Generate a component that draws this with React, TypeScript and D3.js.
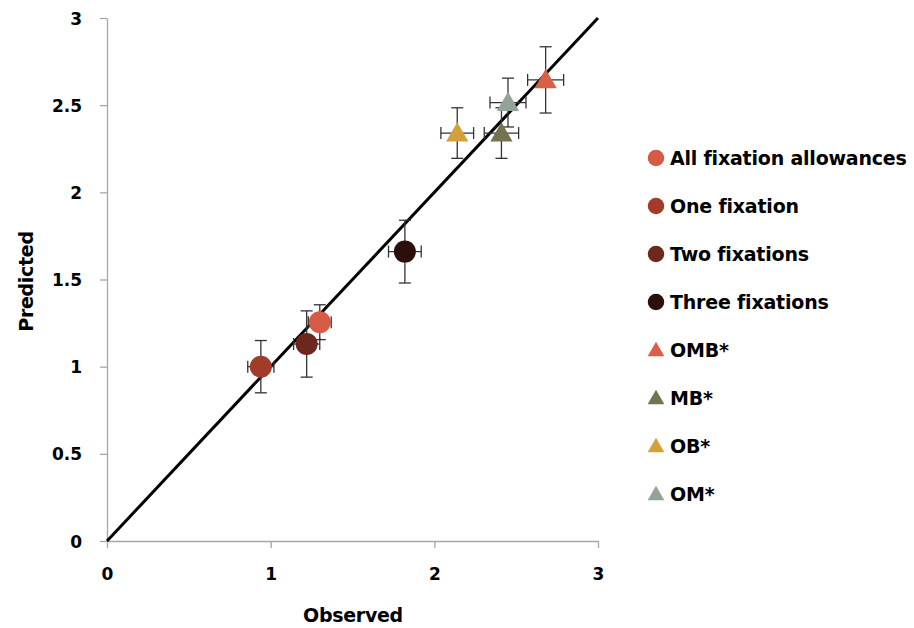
import React, { useEffect, useRef } from 'react';
import * as d3 from 'd3';

const seriesNames = [
  'All fixation allowances',
  'One fixation',
  'Two fixations',
  'Three fixations',
  'OMB*',
  'MB*',
  'OB*',
  'OM*',
];
const seriesShapes = ['circle', 'circle', 'circle', 'circle', 'triangle', 'triangle', 'triangle', 'triangle'];
const seriesColors = ['#d65b45', '#a33b29', '#6c281d', '#2a0f0d', '#d95f46', '#75734f', '#d3a13b', '#93a398'];
const observed = [1.3, 0.94, 1.22, 1.82, 2.68, 2.41, 2.14, 2.45];
const predicted = [1.255, 1.0, 1.13, 1.66, 2.645, 2.34, 2.34, 2.515];
const observedErr = [0.07, 0.08, 0.08, 0.1, 0.11, 0.105, 0.1, 0.11];
const predictedErr = [0.1, 0.15, 0.19, 0.18, 0.19, 0.145, 0.145, 0.14];
const tickValues = [0, 0.5, 1, 1.5, 2, 2.5, 3];
const xTickValues = [0, 1, 2, 3];

const App = () => {
  const svgRef = useRef<SVGSVGElement>(null);

  useEffect(() => {
    document.body.style.margin = '0';
    const width = 914;
    const height = 628;
    const svg = d3.select(svgRef.current);
    svg.selectAll('*').remove();
    svg.attr('width', width).attr('height', height);

    const axisColor = '#a6a6a6';
    const font = "'DejaVu Sans', Verdana, sans-serif";

    const x = d3.scaleLinear().domain([0, 3]).range([107, 598]);
    const y = d3.scaleLinear().domain([0, 3]).range([541, 18]);

    const g = svg.append('g');

    // Y axis
    const yAxis = g.append('g')
      .attr('transform', `translate(${x(0)},0)`)
      .call(d3.axisLeft(y).tickValues(tickValues).tickSize(7).tickSizeOuter(0).tickFormat(d3.format('')));
    yAxis.select('.domain').attr('stroke', axisColor).attr('stroke-width', 1.3);
    yAxis.selectAll('line').attr('stroke', axisColor).attr('stroke-width', 1.3);
    yAxis.selectAll('text')
      .attr('x', -25)
      .attr('dy', '0.36em')
      .style('font-family', font)
      .style('font-weight', 'bold')
      .style('font-size', '17px')
      .style('fill', '#000');

    // X axis
    const xAxis = g.append('g')
      .attr('transform', `translate(0,${y(0)})`)
      .call(d3.axisBottom(x).tickValues(xTickValues).tickSize(7).tickSizeOuter(0).tickFormat(d3.format('')));
    xAxis.select('.domain').attr('stroke', axisColor).attr('stroke-width', 1.3);
    xAxis.selectAll('line').attr('stroke', axisColor).attr('stroke-width', 1.3);
    xAxis.selectAll('text')
      .attr('y', 27)
      .style('font-family', font)
      .style('font-weight', 'bold')
      .style('font-size', '17px')
      .style('fill', '#000');

    // axis titles
    g.append('text')
      .attr('x', 353)
      .attr('y', 622)
      .attr('text-anchor', 'middle')
      .style('font-family', font)
      .style('font-weight', 'bold')
      .style('font-size', '19px')
      .style('letter-spacing', '-0.3px')
      .text('Observed');
    g.append('text')
      .attr('transform', `translate(33,${y(1.5) + 2}) rotate(-90)`)
      .attr('text-anchor', 'middle')
      .style('font-family', font)
      .style('font-weight', 'bold')
      .style('font-size', '19px')
      .style('letter-spacing', '-0.3px')
      .text('Predicted');

    // 1:1 line
    g.append('line')
      .attr('x1', x(0)).attr('y1', y(0))
      .attr('x2', x(3)).attr('y2', y(3))
      .attr('stroke', '#000')
      .attr('stroke-width', 3);

    const idx = d3.range(seriesNames.length);
    const cap = 6;

    // error bars
    const eb = g.append('g').attr('stroke', '#333').attr('stroke-width', 1.3);
    idx.forEach(i => {
      const cx = x(observed[i]);
      const cy = y(predicted[i]);
      const x0 = x(observed[i] - observedErr[i]);
      const x1 = x(observed[i] + observedErr[i]);
      const y0 = y(predicted[i] - predictedErr[i]);
      const y1 = y(predicted[i] + predictedErr[i]);
      eb.append('line').attr('x1', cx).attr('x2', cx).attr('y1', y0).attr('y2', y1);
      eb.append('line').attr('x1', cx - cap).attr('x2', cx + cap).attr('y1', y0).attr('y2', y0);
      eb.append('line').attr('x1', cx - cap).attr('x2', cx + cap).attr('y1', y1).attr('y2', y1);
      eb.append('line').attr('x1', x0).attr('x2', x1).attr('y1', cy).attr('y2', cy);
      eb.append('line').attr('x1', x0).attr('x2', x0).attr('y1', cy - cap).attr('y2', cy + cap);
      eb.append('line').attr('x1', x1).attr('x2', x1).attr('y1', cy - cap).attr('y2', cy + cap);
    });

    const circleSym = d3.symbol().type(d3.symbolCircle).size(Math.PI * 11 * 11);
    const triSym = d3.symbol().type(d3.symbolTriangle).size(215);

    const drawMarker = (sel, i, cx, cy, scale = 1) => {
      const isTri = seriesShapes[i] === 'triangle';
      sel.append('path')
        .attr('d', isTri ? triSym() : circleSym())
        .attr('transform', `translate(${cx},${cy + (isTri ? 2 * scale : 0)}) scale(${scale})`)
        .attr('fill', seriesColors[i]);
    };

    // markers
    const mk = g.append('g');
    idx.forEach(i => drawMarker(mk, i, x(observed[i]), y(predicted[i])));

    // legend
    const legend = g.append('g');
    idx.forEach(i => {
      const ly = 158 + i * 48;
      drawMarker(legend, i, 656, ly, 0.75);
      legend.append('text')
        .attr('x', 670)
        .attr('y', ly + 7)
        .style('font-family', font)
        .style('font-weight', 'bold')
        .style('font-size', '19px')
        .style('letter-spacing', '-0.2px')
        .text(seriesNames[i]);
    });
  }, []);

  return <svg ref={svgRef} style={{ display: 'block', background: '#fff' }} />;
};

export default App;
